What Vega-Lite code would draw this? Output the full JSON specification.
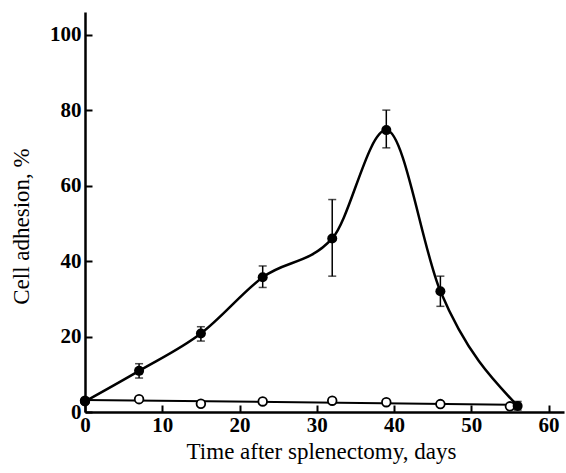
{
  "$schema": "https://vega.github.io/schema/vega-lite/v6.json",
  "autosize": "none",
  "width": 479,
  "height": 400,
  "padding": {"left": 85, "top": 12, "right": 2, "bottom": 61},
  "background": "white",
  "config": {
    "view": {"stroke": null},
    "axis": {
      "grid": false,
      "domainColor": "black",
      "domainWidth": 2.5,
      "tickColor": "black",
      "tickWidth": 2,
      "tickSize": -7,
      "labelFont": "Liberation Serif",
      "labelFontWeight": "bold",
      "labelFontSize": 21,
      "labelColor": "black",
      "titleFont": "Liberation Serif",
      "titleFontWeight": "normal",
      "titleFontSize": 23,
      "titleColor": "black"
    }
  },
  "datasets": {
    "pts": [
      {"day": 0, "group": "filled", "value": 2.8, "lo": 2.8, "hi": 2.8},
      {"day": 7, "group": "filled", "value": 10.9, "lo": 9.0, "hi": 12.8},
      {"day": 15, "group": "filled", "value": 20.8, "lo": 18.8, "hi": 22.6},
      {"day": 23, "group": "filled", "value": 35.7, "lo": 33.0, "hi": 38.7},
      {"day": 32, "group": "filled", "value": 46.0, "lo": 36.0, "hi": 56.3},
      {"day": 39, "group": "filled", "value": 74.7, "lo": 70.0, "hi": 80.0},
      {"day": 46, "group": "filled", "value": 32.0, "lo": 28.0, "hi": 36.0},
      {"day": 56, "group": "filled", "value": 1.6, "lo": 0.5, "hi": 2.8},
      {"day": 0, "group": "open", "value": 3.0, "lo": 3.0, "hi": 3.0},
      {"day": 7, "group": "open", "value": 3.4, "lo": 3.4, "hi": 3.4},
      {"day": 15, "group": "open", "value": 2.2, "lo": 2.2, "hi": 2.2},
      {"day": 23, "group": "open", "value": 2.8, "lo": 2.8, "hi": 2.8},
      {"day": 32, "group": "open", "value": 3.0, "lo": 3.0, "hi": 3.0},
      {"day": 39, "group": "open", "value": 2.6, "lo": 2.6, "hi": 2.6},
      {"day": 46, "group": "open", "value": 2.1, "lo": 2.1, "hi": 2.1},
      {"day": 55, "group": "open", "value": 1.5, "lo": 1.5, "hi": 1.5}
    ]
  },
  "data": {"name": "pts"},
  "encoding": {
    "x": {
      "field": "day", "type": "quantitative",
      "scale": {"domain": [0, 62], "nice": false},
      "axis": {"values": [0, 10, 20, 30, 40, 50, 60], "title": "Time after splenectomy, days", "labelPadding": 9, "titlePadding": 5, "titleX": 236, "labelFlush": false}
    },
    "y": {
      "field": "value", "type": "quantitative",
      "scale": {"domain": [0, 106], "nice": false},
      "axis": {"values": [0, 20, 40, 60, 80, 100], "title": "Cell adhesion, %", "labelPadding": 11, "titlePadding": 16, "titleY": 214}
    }
  },
  "layer": [
    {
      "transform": [{"filter": "datum.group === 'open'"}, {"regression": "value", "on": "day"}],
      "mark": {"type": "line", "color": "black", "strokeWidth": 2},
      "encoding": {}
    },
    {
      "transform": [{"filter": "datum.group === 'filled'"}],
      "mark": {"type": "line", "color": "black", "strokeWidth": 2.5, "interpolate": "monotone"},
      "encoding": {}
    },
    {
      "transform": [{"filter": "datum.group === 'filled' && datum.hi > datum.lo + 0.5"}],
      "mark": {"type": "errorbar", "color": "black", "thickness": 1.5, "ticks": {"size": 8, "thickness": 1.5, "color": "black"}},
      "encoding": {
        "y": {"field": "lo", "type": "quantitative"},
        "y2": {"field": "hi"}
      }
    },
    {
      "transform": [{"filter": "datum.group === 'open'"}],
      "mark": {"type": "point", "shape": "circle", "filled": true, "fill": "white", "stroke": "black", "strokeWidth": 1.8, "size": 75, "opacity": 1},
      "encoding": {}
    },
    {
      "transform": [{"filter": "datum.group === 'filled'"}],
      "mark": {"type": "point", "shape": "circle", "filled": true, "color": "black", "size": 100, "opacity": 1},
      "encoding": {}
    }
  ]
}
